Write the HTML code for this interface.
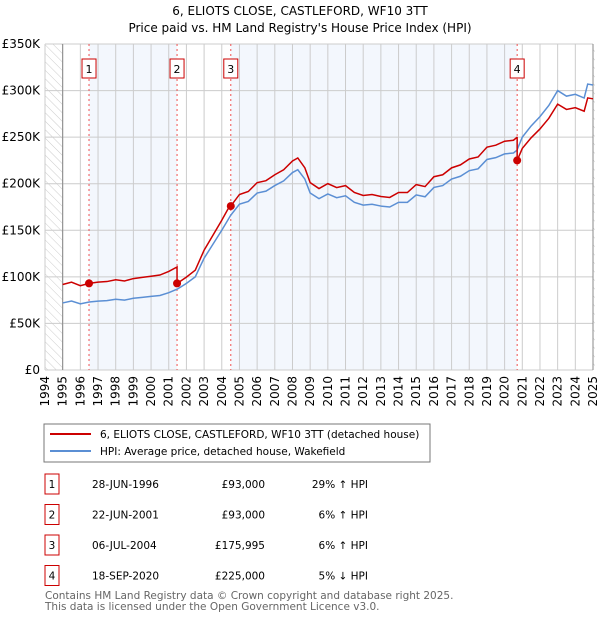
<!DOCTYPE html>
<html><head><meta charset="utf-8"><style>
body{margin:0;background:#fff;font-family:"DejaVu Sans","Liberation Sans",sans-serif;}
svg text{font-family:"DejaVu Sans","Liberation Sans",sans-serif;}
</style></head><body>
<svg id="c" width="600" height="620" viewBox="0 0 600 620">
<defs><pattern id="hatch" width="6" height="6" patternUnits="userSpaceOnUse" patternTransform="rotate(-45)"><line x1="0" y1="0" x2="0" y2="6" stroke="#ccc" stroke-width="1"/></pattern></defs>
<text x="300" y="15" text-anchor="middle" font-size="12">6, ELIOTS CLOSE, CASTLEFORD, WF10 3TT</text>
<text x="300" y="32" text-anchor="middle" font-size="12">Price paid vs. HM Land Registry's House Price Index (HPI)</text>
<g id="plot"></g>
<rect x="44" y="424" width="386" height="38" fill="#fff" stroke="#777"/>
<line x1="50" y1="434" x2="91" y2="434" stroke="#cc0000" stroke-width="2"/>
<text x="100" y="438" font-size="10.5">6, ELIOTS CLOSE, CASTLEFORD, WF10 3TT (detached house)</text>
<line x1="50" y1="451" x2="91" y2="451" stroke="#5b8fd4" stroke-width="2"/>
<text x="100" y="455" font-size="10.5">HPI: Average price, detached house, Wakefield</text>
<g id="table" font-size="10.5"></g>
<text x="45" y="599" font-size="10.5" fill="#666">Contains HM Land Registry data © Crown copyright and database right 2025.</text>
<text x="45" y="610" font-size="10.5" fill="#666">This data is licensed under the Open Government Licence v3.0.</text>
</svg>
<script>
const hpiYears=[1995,1995.5,1996,1996.5,1997,1997.5,1998,1998.5,1999,1999.5,2000,2000.5,2001,2001.5,2002,2002.5,2003,2003.5,2004,2004.5,2005,2005.5,2006,2006.5,2007,2007.5,2008,2008.3,2008.7,2009,2009.5,2010,2010.5,2011,2011.5,2012,2012.5,2013,2013.5,2014,2014.5,2015,2015.5,2016,2016.5,2017,2017.5,2018,2018.5,2019,2019.5,2020,2020.5,2020.7,2021,2021.5,2022,2022.5,2023,2023.5,2024,2024.5,2024.7,2025];
const hpiValues=[72000,74000,71000,73000,74000,74500,76000,75000,77000,78000,79000,80000,83000,87000,93000,100000,120000,135000,150000,166000,178000,181000,190000,192000,198000,203000,212000,215000,205000,190000,184000,189000,185000,187000,180000,177000,178000,176000,175000,180000,180000,188000,186000,196000,198000,205000,208000,214000,216000,226000,228000,232000,233000,236000,250000,262000,272000,284000,300000,294000,296000,292000,307000,306000];
const saleDates=[1996.49,2001.47,2004.51,2020.71];
const salePrices=[93000,93000,175995,225000];
const saleLabels=["28-JUN-1996","22-JUN-2001","06-JUL-2004","18-SEP-2020"];
const saleDiffs=["29% \u2191 HPI","6% \u2191 HPI","6% \u2191 HPI","5% \u2193 HPI"];
const yTicks=[0,50000,100000,150000,200000,250000,300000,350000];
const yTickLabels=["£0","£50K","£100K","£150K","£200K","£250K","£300K","£350K"];
const xTicks=[1994,1995,1996,1997,1998,1999,2000,2001,2002,2003,2004,2005,2006,2007,2008,2009,2010,2011,2012,2013,2014,2015,2016,2017,2018,2019,2020,2021,2022,2023,2024,2025];

const X0=45,X1=593,Y0=370,Y1=44;
const xs=t=>X0+(t-1994)/(2025-1994)*(X1-X0);
const ys=v=>Y0-v/350000*(Y0-Y1);
const NS="http://www.w3.org/2000/svg";
const plot=document.getElementById('plot');
function mk(tag,attrs,parent){const e=document.createElementNS(NS,tag);for(const k in attrs)e.setAttribute(k,attrs[k]);(parent||plot).appendChild(e);return e;}
function hpiAt(t){if(t<=hpiYears[0])return hpiValues[0];for(let i=1;i<hpiYears.length;i++){if(t<=hpiYears[i]){const f=(t-hpiYears[i-1])/(hpiYears[i]-hpiYears[i-1]);return hpiValues[i-1]+f*(hpiValues[i]-hpiValues[i-1]);}}return hpiValues[hpiValues.length-1];}

for(let i=0;i<saleDates.length-1;i+=2){
 const r=mk('rect',{x:xs(saleDates[i]),y:Y1,width:xs(saleDates[i+1])-xs(saleDates[i]),height:Y0-Y1,fill:'#eef3fc',opacity:0.7});
 
 
}
const h1=mk('rect',{x:X0,y:Y1,width:xs(1995)-X0,height:Y0-Y1,fill:'url(#hatch)'});


const h2=mk('rect',{x:xs(2025),y:Y1,width:2,height:Y0-Y1,fill:'url(#hatch)'});


xTicks.forEach((t,i)=>{
 const l=mk('line',{x1:xs(t),x2:xs(t),y1:Y1,y2:Y0,stroke:'#ccc'});
 
 
 const tx=mk('text',{x:0,y:0,'font-size':12,'text-anchor':'end',transform:`translate(${xs(t)+4},${Y0+6}) rotate(-90)`});
 tx.textContent=t;
 
 
});
yTicks.forEach((v,i)=>{
 const l=mk('line',{x1:X0,x2:X1,y1:ys(v),y2:ys(v),stroke:'#ccc'});
 
 
 const tx=mk('text',{x:40,y:ys(v)+4,'font-size':12,'text-anchor':'end'});
 tx.textContent=yTickLabels[i];
 
 
});
const ax=mk('line',{x1:xs(1995),x2:xs(1995),y1:Y1,y2:Y0,stroke:'#888'});


const ax2=mk('line',{x1:xs(2025),x2:xs(2025),y1:Y1,y2:Y0,stroke:'#888'});


saleDates.forEach((d,i)=>{
 const l=mk('line',{x1:xs(d),x2:xs(d),y1:Y1,y2:Y0,stroke:'#f05050','stroke-dasharray':'2,3'});
 
 
 const b=mk('rect',{x:xs(d)-7,y:59,width:14,height:19,fill:'#fff',stroke:'#cc0000'});
 
 
 const t=mk('text',{x:xs(d),y:73,'font-size':11,'text-anchor':'middle'});
 t.textContent=i+1;
 
 
});
const hp=mk('polyline',{points:hpiYears.map((t,i)=>xs(t)+','+ys(hpiValues[i])).join(' '),fill:'none',stroke:'#5b8fd4','stroke-width':1.5});


function priceAt(t){let k=0;for(let i=0;i<saleDates.length;i++)if(t>=saleDates[i])k=i;return hpiAt(t)*salePrices[k]/hpiAt(saleDates[k]);}
const pts=[];
const times=hpiYears.slice();saleDates.forEach(d=>{times.push(d-0.001);times.push(d);});times.sort((a,b)=>a-b);
times.forEach(t=>pts.push(xs(t)+','+ys(priceAt(t))));
const pl=mk('polyline',{points:pts.join(' '),fill:'none',stroke:'#cc0000','stroke-width':1.5});


saleDates.forEach((d,i)=>{
 const c=mk('circle',{cx:xs(d),cy:ys(salePrices[i]),r:4,fill:'#cc0000'});
 
 
});
const tb=document.getElementById('table');
saleDates.forEach((d,i)=>{
 const y=487+i*30.5;
 const b=mk('rect',{x:45,y:y-13,width:14,height:20,fill:'#fff',stroke:'#cc0000'},tb);
 
 
 const n=mk('text',{x:52,y:y+1,'text-anchor':'middle'},tb);n.textContent=i+1;
 
 
 const a=mk('text',{x:92,y:y+1},tb);a.textContent=saleLabels[i];
 
 
 const p=mk('text',{x:265,y:y+1,'text-anchor':'end'},tb);p.textContent='£'+salePrices[i].toLocaleString('en-GB');
 
 
 const h=mk('text',{x:368,y:y+1,'text-anchor':'end'},tb);h.textContent=saleDiffs[i];
 
 
});
</script>
</body></html>
